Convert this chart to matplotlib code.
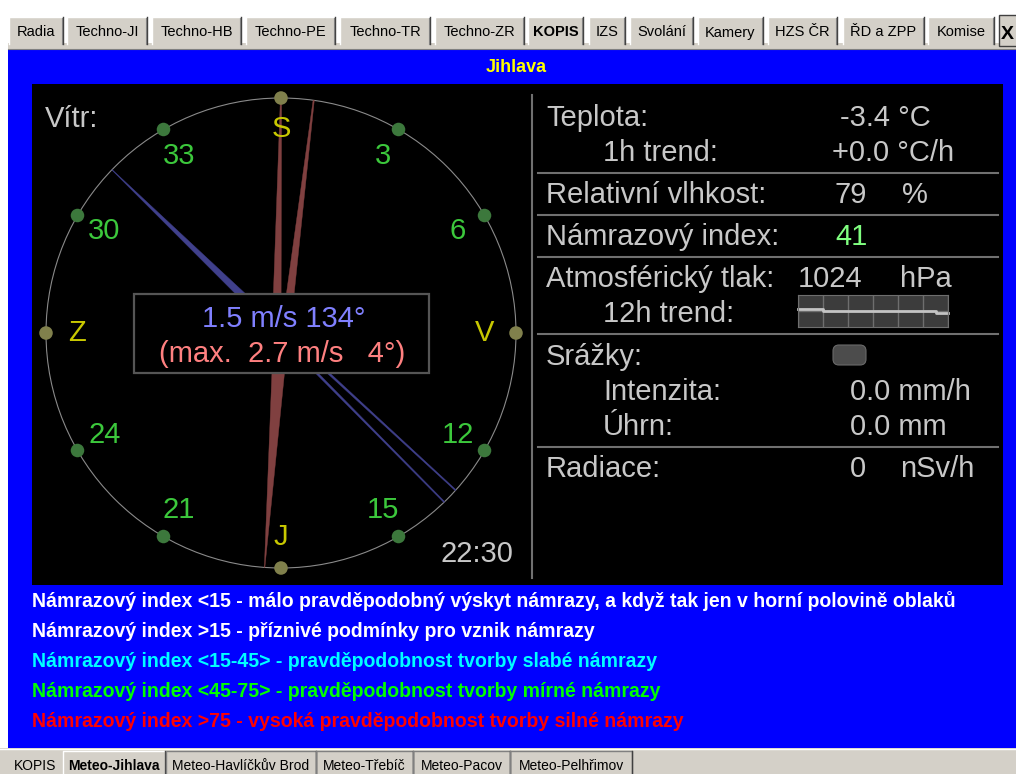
import numpy as np
import matplotlib
matplotlib.use('Agg')
import matplotlib.pyplot as plt
from matplotlib.patches import Rectangle, Polygon, Circle, FancyBboxPatch
from matplotlib import font_manager as fm

# ---- data ----
station = 'Jihlava'
top_tabs = ['Radia', 'Techno-JI', 'Techno-HB', 'Techno-PE', 'Techno-TR', 'Techno-ZR',
            'KOPIS', 'IZS', 'Svolání', 'Kamery', 'HZS ČR', 'ŘD a ZPP', 'Komise']
bottom_tabs = ['KOPIS', 'Meteo-Jihlava', 'Meteo-Havlíčkův Brod', 'Meteo-Třebíč',
               'Meteo-Pacov', 'Meteo-Pelhřimov']

wind_dir = 134
wind_speed = 1.5
gust_dir = 4
gust_speed = 2.7
compass_angles = np.arange(0, 360, 30)
compass_labels = ['S', '3', '6', 'V', '12', '15', 'J', '21', '24', 'Z', '30', '33']
obs_time = '22:30'

temperature = -3.4
temp_trend = 0.0
humidity = 79
icing_index = 41
pressure = 1024
pressure_hours = np.arange(0, 13)
pressure_12h = [1024.4, 1024.4, 1024.3, 1024.3, 1024.3, 1024.3, 1024.3,
                1024.3, 1024.3, 1024.3, 1024.3, 1024.2, 1024.2]
rain_intensity = 0.0
rain_total = 0.0
radiation = 0

legend_lines = [
    'Námrazový index <15 - málo pravděpodobný výskyt námrazy, a když tak jen v horní polovině oblaků',
    'Námrazový index >15 - příznivé podmínky pro vznik námrazy',
    'Námrazový index <15-45> - pravděpodobnost tvorby slabé námrazy',
    'Námrazový index <45-75> - pravděpodobnost tvorby mírné námrazy',
    'Námrazový index >75 - vysoká pravděpodobnost tvorby silné námrazy',
]
legend_colors = ['white', 'white', '#00ffff', '#00ff00', '#ff0000']

# ---- setup ----
W, H = 1016, 774
names = {f.name for f in fm.fontManager.ttflist}
SANS = ['Liberation Sans', 'DejaVu Sans']
NARROW = ['Liberation Sans Narrow', 'Liberation Sans', 'DejaVu Sans'] \
    if 'Liberation Sans Narrow' in names else SANS
plt.rcParams['font.family'] = SANS

fig = plt.figure(figsize=(W / 100, H / 100), dpi=100, facecolor='white')
ax = fig.add_axes([0, 0, 1, 1])
ax.set_xlim(0, W)
ax.set_ylim(H, 0)
ax.axis('off')

GRAY = '#d4d0c8'
LIGHT = '#c8c8c8'
BIG = 21

# ---- window chrome ----
ax.add_patch(Rectangle((8, 43), W, 6, fc=GRAY, ec='none'))
ax.plot([8, W], [48.5, 48.5], color='#808080', lw=0.8)
tab_edges = [(9, 63), (67, 147), (152, 241), (246, 335), (340, 430), (435, 524),
             (528, 583), (589, 625), (630, 693), (698, 763), (768, 837), (843, 924), (928, 994)]
for name, (l, r) in zip(top_tabs, tab_edges):
    ax.add_patch(Rectangle((l, 17), r - l, 27, fc=GRAY, ec='none'))
    ax.plot([l, l, r], [44, 17, 17], color='white', lw=1)
    ax.plot([r, r], [17, 44], color='#404040', lw=1)
    ax.plot([r - 1, r - 1], [18, 44], color='#808080', lw=0.8)
    bold = name == 'KOPIS'
    ax.text((l + r) / 2, 36.5, name, ha='center', va='baseline', fontsize=10.5,
            weight='bold' if bold else 'normal', color='black')
ax.add_patch(Rectangle((999, 15), 20, 31, fc=GRAY, ec='#404040', lw=1))
ax.text(1001, 39, 'X', fontsize=14, weight='bold', color='black', va='baseline')

# blue panel
ax.add_patch(Rectangle((8, 49), W - 8, 699, fc='#0000ff', ec='none'))
ax.text(516, 68, station, ha='center', va='center', fontsize=13, weight='bold', color='#ffff00')
ax.add_patch(Rectangle((32, 84), 971, 501, fc='black', ec='none'))

# bottom tab bar
ax.add_patch(Rectangle((0, 748), W, 26, fc=GRAY, ec='none'))
ax.plot([0, W], [749, 749], color='white', lw=1)
btab_edges = [(8, 63), (63, 165), (166, 316), (316, 413), (413, 510), (510, 632)]
for name, (l, r) in zip(bottom_tabs, btab_edges):
    sel = name == 'Meteo-Jihlava'
    if name != 'KOPIS':
        ax.plot([l, l, r, r], [774, 751, 751, 774], color='white' if sel else '#808080', lw=1)
        ax.plot([r, r], [751, 774], color='#404040', lw=1)
    ax.text((l + r) / 2, 770, name, ha='center', va='baseline', fontsize=10,
            family=NARROW, weight='bold' if sel else 'normal', color='black')

# ---- compass ----
cx, cy, R = 281, 333, 235


def pt(angle, r):
    a = np.radians(angle)
    return np.array([cx + r * np.sin(a), cy - r * np.cos(a)])


def taper(p0, p1, w0, w1, color):
    u = (p1 - p0) / np.linalg.norm(p1 - p0)
    n = np.array([-u[1], u[0]])
    poly = [p0 + n * w0 / 2, p1 + n * w1 / 2, p1 - n * w1 / 2, p0 - n * w0 / 2]
    ax.add_patch(Polygon(poly, closed=True, fc=color, ec=color, lw=0.3))


def needle(direction, spread, offset, fork_w, wedge_w, color):
    a = np.radians(direction)
    n = np.array([np.cos(a), np.sin(a)])
    c = np.array([cx, cy])
    for s in (-1, 1):
        taper(c + s * offset * n, pt(direction + s * spread, R), fork_w, 1.2, color)
    taper(c, pt(direction + 180, R), wedge_w, 0.5, color)


ax.add_patch(Circle((cx, cy), R, fill=False, ec='#8a8a8a', lw=0.8))
needle(gust_dir, 4, 4.5, 9, 15, '#804040')
needle(wind_dir, 2, 2.7, 2.2, 9, '#40408c')

for ang, lab in zip(compass_angles, compass_labels):
    cardinal = lab.isalpha()
    x, y = pt(ang, R)
    ax.scatter([x], [y], s=95, color='#80804c' if cardinal else '#3c783c', zorder=5,
               edgecolors='none')
    tx, ty = pt(ang, 204)
    ax.text(tx, ty, lab, ha='center', va='center', fontsize=BIG,
            color='#c8c800' if cardinal else '#3cc83c')

ax.text(45, 127, 'Vítr:', fontsize=BIG, color=LIGHT, va='baseline')
ax.text(441, 562, obs_time, fontsize=BIG, color=LIGHT, va='baseline')

ax.add_patch(Rectangle((134, 294), 295, 79, fc='black', ec='#555555', lw=1.6, zorder=6))
ax.text(284, 327, f'{wind_speed} m/s {wind_dir}°', ha='center', va='baseline',
        fontsize=BIG, color='#8080ff', zorder=7)
ax.text(282, 362, f'(max.  {gust_speed} m/s   {gust_dir}°)', ha='center', va='baseline',
        fontsize=BIG, color='#ff8080', zorder=7)

# ---- right panel ----
ax.plot([532, 532], [95, 578], color='#707070', lw=1.5)
for y in [173, 215, 257, 334, 447]:
    ax.plot([538, 998], [y, y], color='#707070', lw=1.5)

L1, L2 = 546, 603
rows = [
    (L1, 126, 'Teplota:', 840, f'{temperature:.1f} °C', None, None, LIGHT),
    (L2, 161, '1h trend:', 832, f'{temp_trend:+.1f} °C/h', None, None, LIGHT),
    (L1, 203, 'Relativní vlhkost:', 835, f'{humidity}', 902, '%', LIGHT),
    (L1, 245, 'Námrazový index:', 835, f'{icing_index}', None, None, '#80ff80'),
    (L1, 287, 'Atmosférický tlak:', 798, f'{pressure}', 900, 'hPa', LIGHT),
    (L2, 322, '12h trend:', None, None, None, None, LIGHT),
    (L1, 365, 'Srážky:', None, None, None, None, LIGHT),
    (L2, 400, 'Intenzita:', 850, f'{rain_intensity:.1f} mm/h', None, None, LIGHT),
    (L2, 435, 'Úhrn:', 850, f'{rain_total:.1f} mm', None, None, LIGHT),
    (L1, 477, 'Radiace:', 850, f'{radiation}', 900, 'nSv/h', LIGHT),
]
for lx, by, lab, vx, val, ux, unit, vcol in rows:
    ax.text(lx, by, lab, fontsize=BIG, color=LIGHT, va='baseline')
    if val is not None:
        ax.text(vx, by, val, fontsize=BIG, color=vcol, va='baseline')
    if unit is not None:
        ax.text(ux, by, unit, fontsize=BIG, color=LIGHT, va='baseline')

ax.add_patch(FancyBboxPatch((835, 347), 29, 16, boxstyle='round,pad=2,rounding_size=6',
                            fc='#4c4c4c', ec='#6a6a6a', lw=0.8))

# 12h pressure trend
tax = fig.add_axes([798 / W, 1 - 327 / H, 150 / W, 32 / H])
tax.set_facecolor('#3c3c3c')
tax.step(pressure_hours, pressure_12h, where='post', color='#c4c4c4', lw=2, clip_on=False)
tax.set_xlim(0, 12)
tax.set_ylim(1023.5, 1025.1)
tax.set_xticks(np.arange(0, 13, 2))
tax.set_yticks([1024.3])
tax.grid(True, color='#6e6e6e', lw=1)
tax.tick_params(length=0, labelbottom=False, labelleft=False)
for sp in tax.spines.values():
    sp.set_color('#6e6e6e')

# ---- legend text ----
renderer = fig.canvas.get_renderer()
probe = ax.text(0, 0, legend_lines[0], fontsize=10, family=NARROW, weight='bold')
w10 = probe.get_window_extent(renderer).width
probe.remove()
leg_size = 10 * 926 / w10
for i, (line, col) in enumerate(zip(legend_lines, legend_colors)):
    ax.text(32, 607 + 30 * i, line, fontsize=leg_size, family=NARROW, weight='bold',
            color=col, va='baseline')

fig.savefig('out.png', dpi=100, facecolor='white')
